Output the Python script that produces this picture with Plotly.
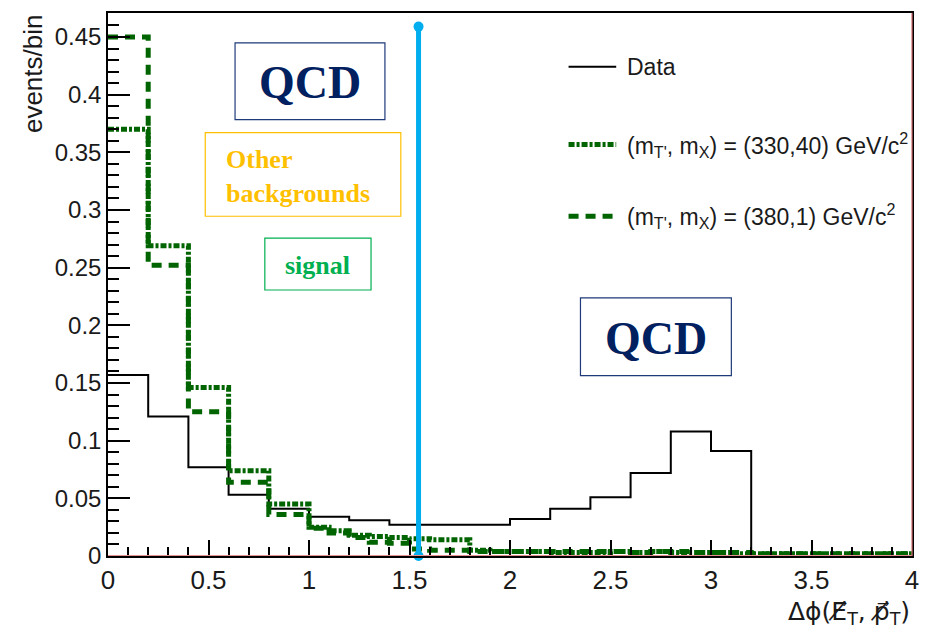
import plotly.graph_objects as go

# ---------------- data ----------------
DATA_EDGES = [0.0, 0.2, 0.4, 0.6, 0.8, 1.0, 1.2, 1.4, 1.6, 1.8, 2.0,
              2.2, 2.4, 2.6, 2.8, 3.0, 3.2, 3.4, 3.6, 3.8, 4.0]
DATA_VALUES = [0.157, 0.121, 0.077, 0.053, 0.041, 0.034, 0.031, 0.027, 0.027, 0.027,
               0.032, 0.041, 0.051, 0.072, 0.108, 0.091, 0.0, 0.0, 0.0, 0.0]

SIG_EDGES = [0.0, 0.1, 0.2, 0.3, 0.4, 0.5, 0.6, 0.7, 0.8, 0.9, 1.0,
             1.1, 1.2, 1.3, 1.4, 1.5, 1.6, 1.7, 1.8, 1.9, 2.0,
             2.1, 2.2, 2.3, 2.4, 2.5, 2.6, 2.7, 2.8, 2.9, 3.0,
             3.1, 3.2, 3.3, 3.4, 3.5, 3.6, 3.7, 3.8, 3.9, 4.0]
SIG1_VALUES = [0.370, 0.370, 0.269, 0.269, 0.146, 0.146, 0.074, 0.074, 0.045, 0.045,
               0.025, 0.022, 0.018, 0.017, 0.016, 0.015, 0.014, 0.014, 0.005, 0.004,
               0.004, 0.004, 0.003, 0.003, 0.003, 0.004, 0.003, 0.004, 0.003, 0.003,
               0.003, 0.002, 0.002, 0.002, 0.002, 0.002, 0.002, 0.002, 0.002, 0.002]
SIG2_VALUES = [0.450, 0.450, 0.252, 0.252, 0.125, 0.125, 0.064, 0.064, 0.036, 0.036,
               0.024, 0.020, 0.016, 0.012, 0.011, 0.006, 0.005, 0.005, 0.004, 0.004,
               0.004, 0.004, 0.004, 0.004, 0.004, 0.004, 0.003, 0.004, 0.004, 0.003,
               0.003, 0.003, 0.002, 0.002, 0.002, 0.002, 0.002, 0.002, 0.002, 0.002]

SERIES_NAMES = ["Data",
                "(m<sub>T'</sub>, m<sub>X</sub>) = (330,40) GeV/c<sup>2</sup>",
                "(m<sub>T'</sub>, m<sub>X</sub>) = (380,1) GeV/c<sup>2</sup>"]

X_RANGE = [0.0, 4.0]
Y_RANGE = [0.0, 0.4708]
CUT_X = 1.545
CUT_TOP = 0.459

# ---------------- layout geometry ----------------
W, H = 930, 642
ML, MR, MT, MB = 108, 12, 11, 86
PW, PH = W - ML - MR, H - MT - MB

GREEN = "#006400"
DASH1 = "6px,2px,3px,2px"
DASH2 = "10px,7px"


def dx(px):
    return X_RANGE[0] + (px - ML) / PW * (X_RANGE[1] - X_RANGE[0])


def dy(py):
    return Y_RANGE[0] + (MT + PH - py) / PH * (Y_RANGE[1] - Y_RANGE[0])


def px_paper(px):
    return (px - ML) / PW


def py_paper(py):
    return (MT + PH - py) / PH


fig = go.Figure()


def step_trace(edges, values, color, width, dash):
    return go.Scatter(x=edges, y=list(values) + [values[-1]], mode="lines",
                      line=dict(color=color, width=width, dash=dash, shape="hv"),
                      showlegend=False, hoverinfo="skip")


fig.add_trace(step_trace(DATA_EDGES, DATA_VALUES, "black", 2, "solid"))
fig.add_trace(step_trace(SIG_EDGES, SIG1_VALUES, GREEN, 5, DASH1))
fig.add_trace(step_trace(SIG_EDGES, SIG2_VALUES, GREEN, 5, DASH2))

# blue cut line
fig.add_trace(go.Scatter(x=[CUT_X, CUT_X], y=[0, CUT_TOP], mode="lines+markers",
                         line=dict(color="#00AEEF", width=5),
                         marker=dict(color="#00AEEF", size=10),
                         cliponaxis=False, showlegend=False, hoverinfo="skip"))

shapes = []
annotations = []

# bottom pink line and right pink edge
shapes.append(dict(type="line", xref="paper", yref="y", x0=0, x1=1, y0=0, y1=0,
                   line=dict(color="#E89090", width=2), layer="above"))
shapes.append(dict(type="line", xref="paper", yref="paper", x0=1, x1=1, y0=0, y1=1,
                   line=dict(color="#D87070", width=1.2), layer="above"))

# text boxes
BOXES = [
    # x0, y0, x1, y1 (px), border colour
    (236, 41, 387, 118, "#1F3A7A"),
    (206, 131, 403, 215, "#FFC000"),
    (266, 237, 373, 289, "#00B050"),
    (584, 297, 736, 375, "#1F3A7A"),
]
for x0, y0, x1, y1, c in BOXES:
    shapes.append(dict(type="rect", xref="x", yref="y", x0=dx(x0), x1=dx(x1),
                       y0=dy(y1), y1=dy(y0), line=dict(color=c, width=1.2),
                       fillcolor="white", layer="above"))

SERIF = "Liberation Serif, Times New Roman, serif"
annotations.append(dict(x=dx(311.5), y=dy(81), xref="x", yref="y", text="<b>QCD</b>",
                        showarrow=False, font=dict(family=SERIF, size=46, color="#002060")))
annotations.append(dict(x=dx(660), y=dy(338), xref="x", yref="y", text="<b>QCD</b>",
                        showarrow=False, font=dict(family=SERIF, size=46, color="#002060")))
annotations.append(dict(x=dx(225), y=dy(175), xref="x", yref="y",
                        text="<b>Other<br>backgrounds</b>", align="left", xanchor="left",
                        showarrow=False, font=dict(family=SERIF, size=26, color="#FFC000")))
annotations.append(dict(x=dx(319.5), y=dy(264), xref="x", yref="y", text="<b>signal</b>",
                        showarrow=False, font=dict(family=SERIF, size=26, color="#00B050")))

# legend
SANS = "Liberation Sans, Arial, sans-serif"
LEG = [(65, "black", 2, "solid"), (143, GREEN, 5, DASH1), (215, GREEN, 5, DASH2)]
for (ly, col, w, dash), name in zip(LEG, SERIES_NAMES):
    shapes.append(dict(type="line", xref="x", yref="y", x0=dx(572), x1=dx(620),
                       y0=dy(ly), y1=dy(ly), line=dict(color=col, width=w, dash=dash)))
    annotations.append(dict(x=dx(629), y=dy(ly), xref="x", yref="y", text=name,
                            xanchor="left", yanchor="middle", showarrow=False,
                            font=dict(family=SANS, size=23, color="#1a1a1a")))

# axis titles
annotations.append(dict(x=px_paper(32), y=py_paper(10), xref="paper", yref="paper",
                        text="events/bin", textangle=-90, xanchor="center", yanchor="top",
                        showarrow=False, font=dict(family=SANS, size=26, color="#1a1a1a")))
annotations.append(dict(x=1.0, y=py_paper(613), xref="paper", yref="paper",
                        text="Δ\u03D5(E\u0338\u20D7<sub>T</sub>, p\u0338\u20D7<sub>T</sub>)",
                        xanchor="right", yanchor="middle", showarrow=False,
                        font=dict(family="DejaVu Sans", size=25, color="#1a1a1a")))

fig.update_layout(
    width=W, height=H,
    margin=dict(l=ML, r=MR, t=MT, b=MB, pad=0),
    paper_bgcolor="white", plot_bgcolor="white",
    shapes=shapes, annotations=annotations, showlegend=False,
    xaxis=dict(range=X_RANGE, dtick=0.5, tick0=0, ticks="inside", ticklen=16,
               tickwidth=1.5, tickcolor="black", showgrid=False, zeroline=False,
               showline=True, linecolor="black", linewidth=1.5, mirror=True,
               tickfont=dict(family=SANS, size=26, color="#1a1a1a"),
               minor=dict(dtick=0.1, ticks="inside", ticklen=9, tickcolor="black",
                          tickwidth=1.5, showgrid=False)),
    yaxis=dict(range=Y_RANGE, dtick=0.05, tick0=0, ticks="inside", ticklen=22,
               tickwidth=1.5, tickcolor="black", showgrid=False, zeroline=False,
               showline=True, linecolor="black", linewidth=1.5, mirror=True,
               tickfont=dict(family=SANS, size=24, color="#1a1a1a"),
               minor=dict(dtick=0.01, ticks="inside", ticklen=11, tickcolor="black",
                          tickwidth=1.5, showgrid=False)),
)

fig.write_html("out.html")
